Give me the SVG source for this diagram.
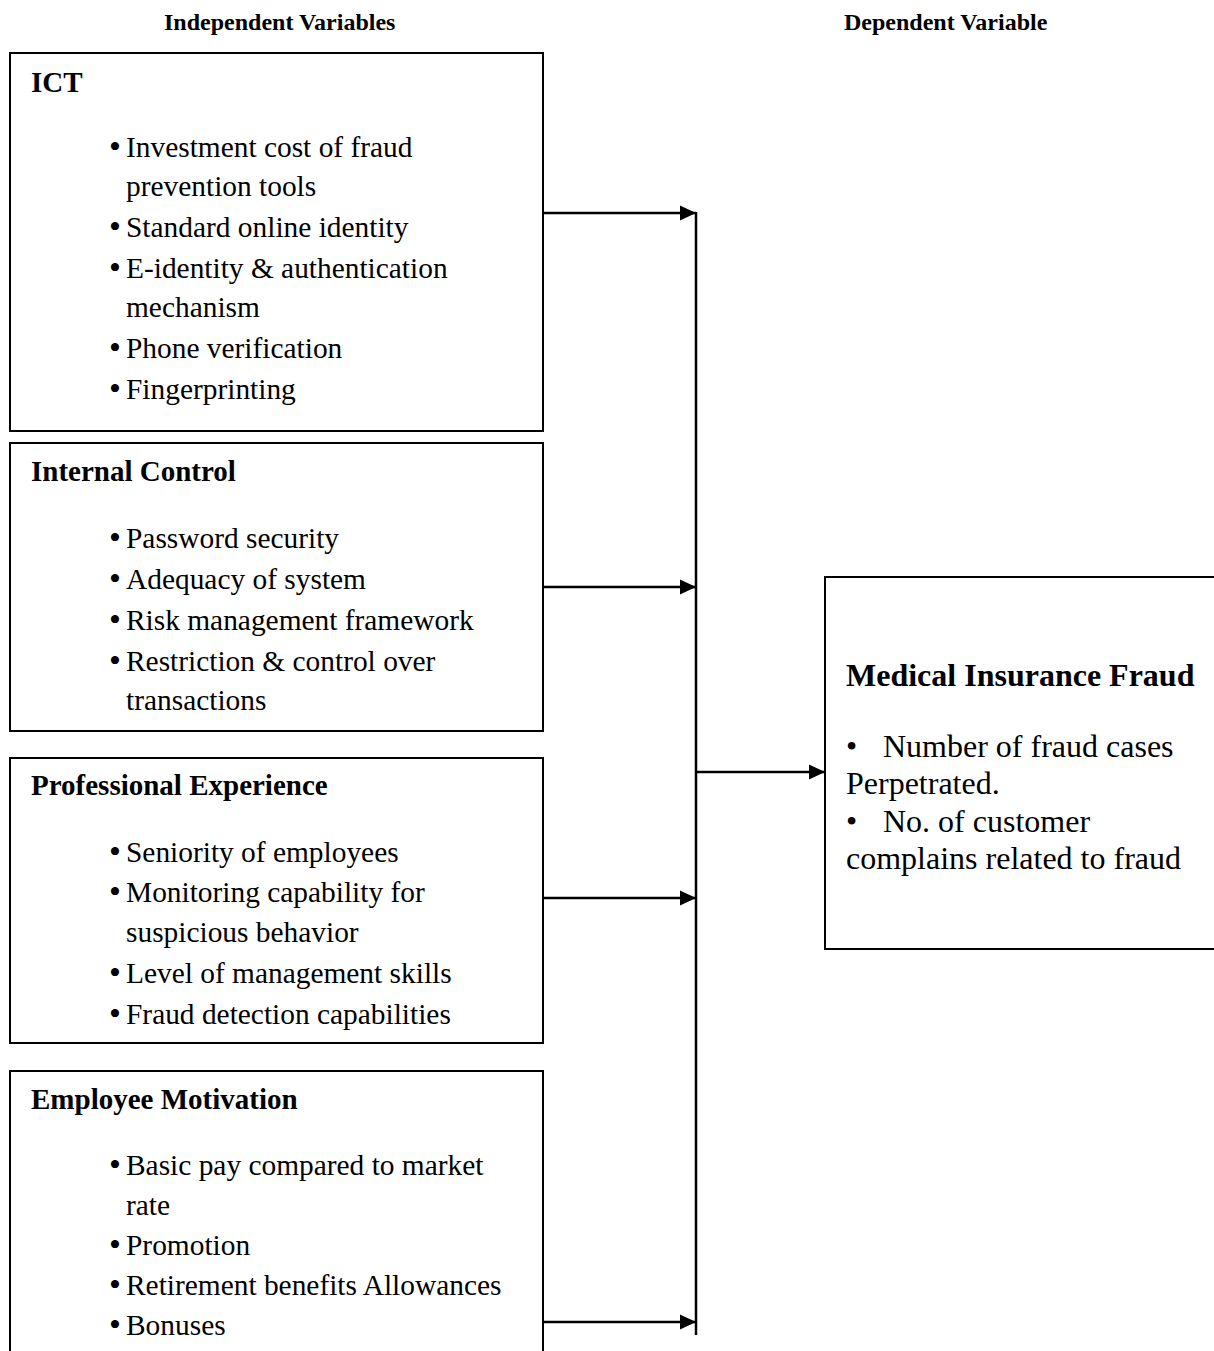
<svg xmlns="http://www.w3.org/2000/svg" width="1214" height="1351" viewBox="0 0 1214 1351">
<style>
.box{fill:#fff;stroke:#000;stroke-width:2}
.hd{font-family:"Liberation Serif","Times New Roman",serif;font-weight:bold;font-size:24px;fill:#000}
.ttl{font-family:"Liberation Serif","Times New Roman",serif;font-weight:bold;font-size:29px;fill:#000}
.it{font-family:"Liberation Serif","Times New Roman",serif;font-size:29.4px;fill:#000}
.bl{font-size:34px}
.mt{font-family:"Liberation Serif","Times New Roman",serif;font-weight:bold;font-size:32px;fill:#000}
.mi{font-family:"Liberation Serif","Times New Roman",serif;font-size:32px;fill:#000}
.ln{stroke:#000;stroke-width:2.5;fill:none}
</style>
<defs>
<marker id="ah" markerUnits="userSpaceOnUse" markerWidth="16" markerHeight="16" viewBox="0 0 16 16" refX="16" refY="8" orient="auto">
<path d="M0,0.5 L16,8 L0,15.5 Z" fill="#000"/>
</marker>
</defs>
<g id="headers">
<text class="hd" x="164" y="30">Independent Variables</text>
<text class="hd" x="844" y="30">Dependent Variable</text>
</g>
<g id="ict">
<rect class="box" x="10" y="53" width="533" height="378"/>
<text class="ttl" x="31" y="92">ICT</text>
<g class="it">
<text class="bl" x="109" y="158">•</text><text x="126" y="157">Investment cost of fraud</text>
<text x="126" y="196">prevention tools</text>
<text class="bl" x="109" y="238">•</text><text x="126" y="237">Standard online identity</text>
<text class="bl" x="109" y="279">•</text><text x="126" y="278">E-identity &amp; authentication</text>
<text x="126" y="317">mechanism</text>
<text class="bl" x="109" y="359">•</text><text x="126" y="358">Phone verification</text>
<text class="bl" x="109" y="400">•</text><text x="126" y="399">Fingerprinting</text>
</g>
</g>
<g id="internal-control">
<rect class="box" x="10" y="443" width="533" height="288"/>
<text class="ttl" x="31" y="481">Internal Control</text>
<g class="it">
<text class="bl" x="109" y="549">•</text><text x="126" y="548">Password security</text>
<text class="bl" x="109" y="590">•</text><text x="126" y="589">Adequacy of system</text>
<text class="bl" x="109" y="631">•</text><text x="126" y="630">Risk management framework</text>
<text class="bl" x="109" y="672">•</text><text x="126" y="671">Restriction &amp; control over</text>
<text x="126" y="710">transactions</text>
</g>
</g>
<g id="professional-experience">
<rect class="box" x="10" y="758" width="533" height="285"/>
<text class="ttl" x="31" y="795">Professional Experience</text>
<g class="it">
<text class="bl" x="109" y="863">•</text><text x="126" y="862">Seniority of employees</text>
<text class="bl" x="109" y="903">•</text><text x="126" y="902">Monitoring capability for</text>
<text x="126" y="942">suspicious behavior</text>
<text class="bl" x="109" y="984">•</text><text x="126" y="983">Level of management skills</text>
<text class="bl" x="109" y="1025">•</text><text x="126" y="1024">Fraud detection capabilities</text>
</g>
</g>
<g id="employee-motivation">
<rect class="box" x="10" y="1071" width="533" height="300"/>
<text class="ttl" x="31" y="1109">Employee Motivation</text>
<g class="it">
<text class="bl" x="109" y="1176">•</text><text x="126" y="1175">Basic pay compared to market</text>
<text x="126" y="1215">rate</text>
<text class="bl" x="109" y="1256">•</text><text x="126" y="1255">Promotion</text>
<text class="bl" x="109" y="1296">•</text><text x="126" y="1295">Retirement benefits Allowances</text>
<text class="bl" x="109" y="1336">•</text><text x="126" y="1335">Bonuses</text>
</g>
</g>
<g id="medical-insurance-fraud">
<rect class="box" x="825" y="577" width="420" height="372"/>
<text class="mt" x="846" y="686">Medical Insurance Fraud</text>
<g class="mi">
<text x="846" y="757">•</text><text x="883" y="757">Number of fraud cases</text>
<text x="846" y="794">Perpetrated.</text>
<text x="846" y="832">•</text><text x="883" y="832">No. of customer</text>
<text x="846" y="869">complains related to fraud</text>
</g>
</g>
<g id="connectors">
<line class="ln" x1="696" y1="212" x2="696" y2="1335"/>
<line class="ln" x1="543" y1="213" x2="696" y2="213" marker-end="url(#ah)"/>
<line class="ln" x1="543" y1="587" x2="696" y2="587" marker-end="url(#ah)"/>
<line class="ln" x1="543" y1="898" x2="696" y2="898" marker-end="url(#ah)"/>
<line class="ln" x1="543" y1="1322" x2="696" y2="1322" marker-end="url(#ah)"/>
<line class="ln" x1="696" y1="772" x2="825" y2="772" marker-end="url(#ah)"/>
</g>
</svg>
